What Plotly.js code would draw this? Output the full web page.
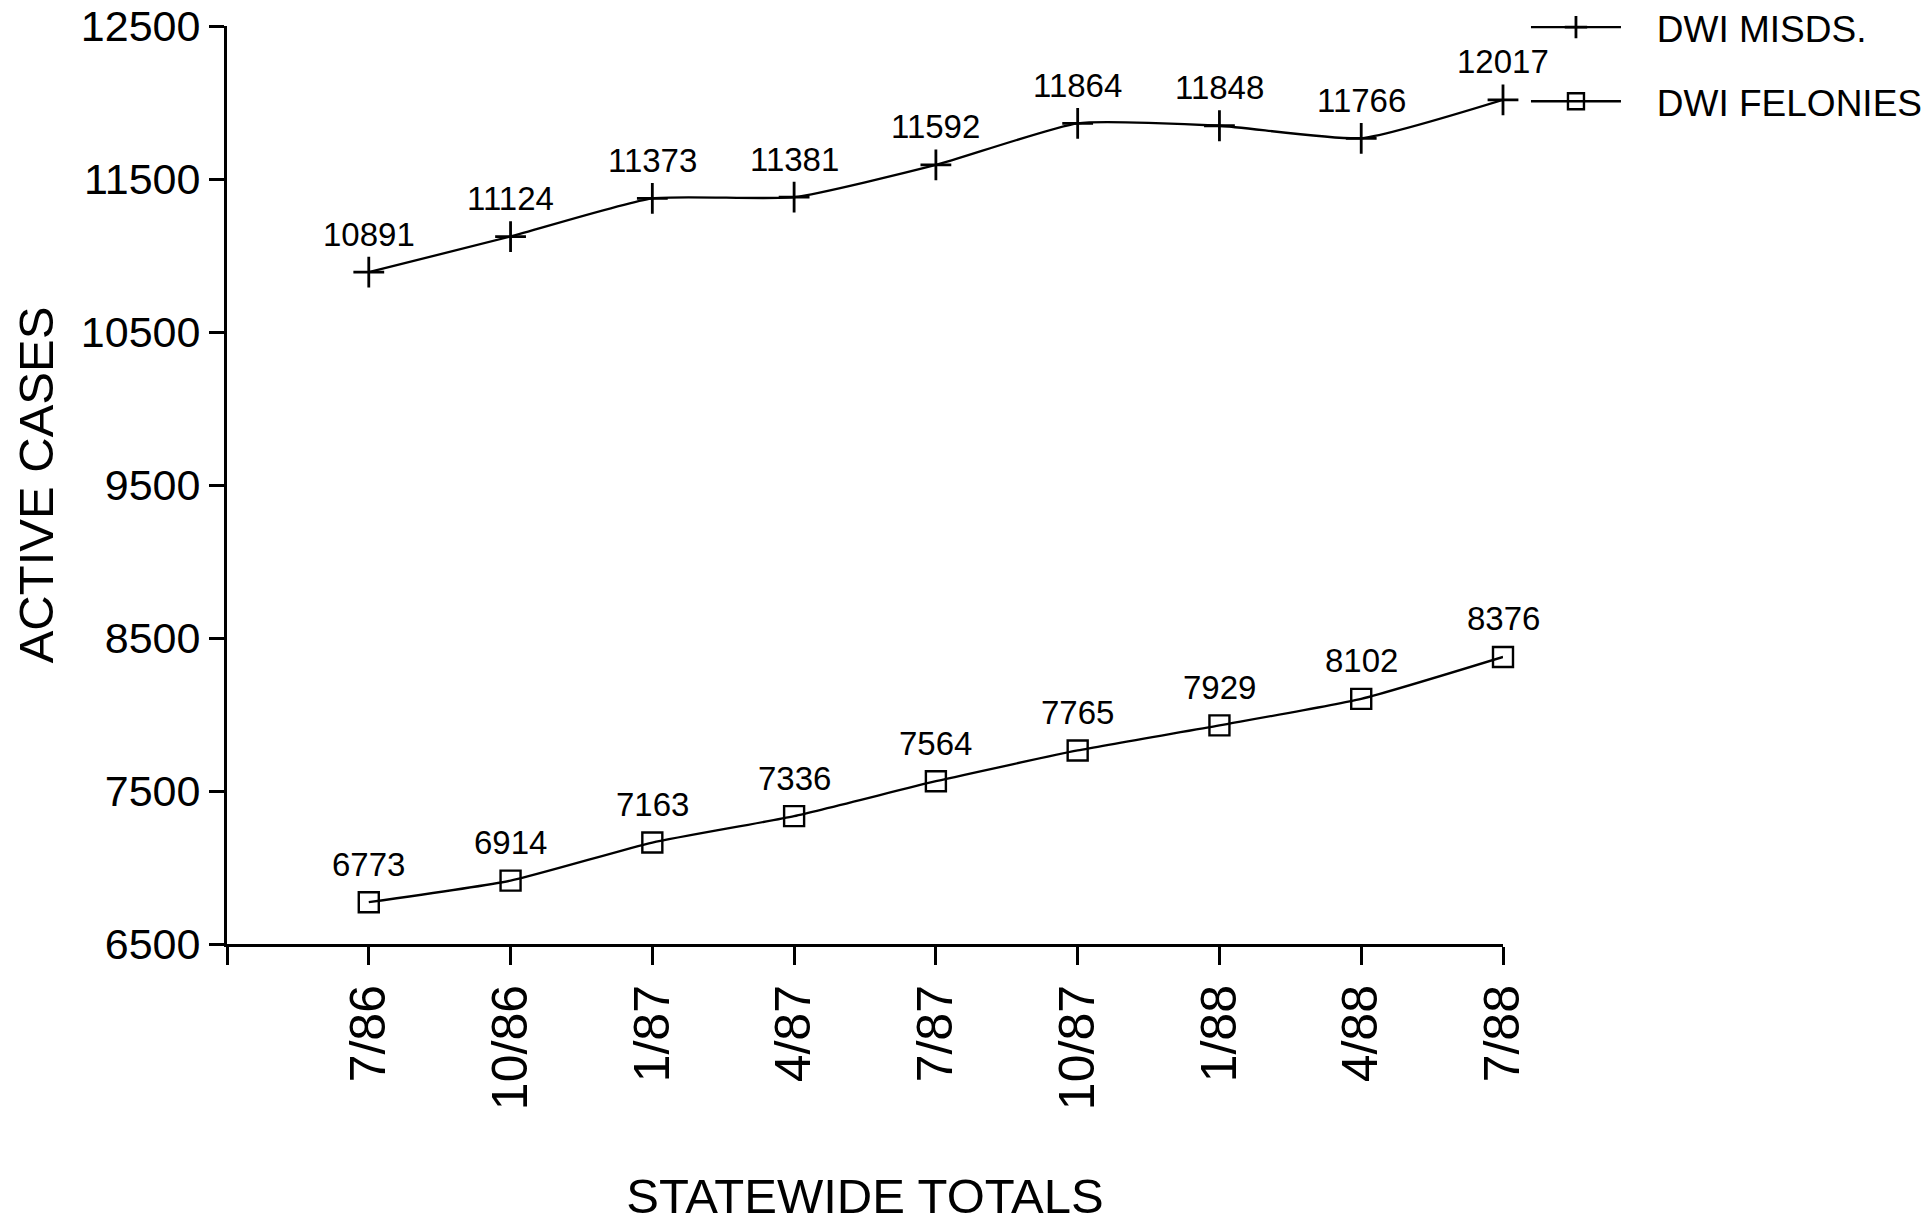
<!DOCTYPE html>
<html>
<head>
<meta charset="utf-8">
<script src="https://cdn.plot.ly/plotly-3.0.1.min.js"></script>
<style>html,body{margin:0;padding:0;background:#fff;}#chart{width:1928px;height:1223px;}</style>
</head>
<body>
<div id="chart"></div>
<script>
const categories = ["7/86", "10/86", "1/87", "4/87", "7/87", "10/87", "1/88", "4/88", "7/88"];
const misdemeanors = [10891, 11124, 11373, 11381, 11592, 11864, 11848, 11766, 12017];
const felonies = [6773, 6914, 7163, 7336, 7564, 7765, 7929, 8102, 8376];
const yTicks = [6500, 7500, 8500, 9500, 10500, 11500, 12500];
const seriesNames = ["DWI MISDS.", "DWI FELONIES"];

const FONT = "Liberation Sans, Arial, sans-serif";
const xIdx = categories.map((c, i) => i);
const GAP = "\u00a0\u00a0\u00a0";

const traces = [
  {
    x: xIdx, y: misdemeanors, name: GAP + seriesNames[0], legendgroup: "a",
    type: "scatter", mode: "lines+markers", cliponaxis: false,
    line: {color: "#000", width: 2.3, shape: "spline", smoothing: 0.5},
    marker: {symbol: "cross-thin-open", size: 22, color: "#000", line: {color: "#000", width: 2.8}}
  },
  {
    x: xIdx, y: felonies, name: GAP + seriesNames[1], legendgroup: "b",
    type: "scatter", mode: "lines+markers", cliponaxis: false,
    line: {color: "#000", width: 2.3, shape: "spline", smoothing: 0.5},
    marker: {symbol: "square-open", size: 20, color: "#000", line: {color: "#000", width: 2.4}}
  }
];

const annotations = [];
[misdemeanors, felonies].forEach(series => {
  series.forEach((v, i) => {
    annotations.push({
      x: i, y: v, xref: "x", yref: "y", text: String(v), showarrow: false,
      yshift: 38, font: {family: FONT, size: 33, color: "#000"}
    });
  });
});

const layout = {
  width: 1928, height: 1223,
  paper_bgcolor: "#fff", plot_bgcolor: "#fff",
  margin: {l: 227, r: 425, t: 26, b: 279, pad: 0, autoexpand: false},
  font: {family: FONT, color: "#000"},
  showlegend: true,
  legend: {
    x: 1.018, y: 1.032, xanchor: "left", yanchor: "top",
    font: {family: FONT, size: 37, color: "#000"},
    itemwidth: 90, tracegroupgap: 23, bgcolor: "rgba(0,0,0,0)"
  },
  xaxis: {
    range: [-1, 8], showgrid: false, zeroline: false,
    showline: true, linecolor: "#000", linewidth: 3,
    tickmode: "array", tickvals: [-1].concat(xIdx), ticktext: [""].concat(categories),
    ticks: "outside", ticklen: 18, tickwidth: 3, tickcolor: "#000",
    tickangle: -90, tickfont: {family: FONT, size: 50, color: "#000"},
    title: {text: "STATEWIDE TOTALS", font: {family: FONT, size: 49, color: "#000"}, standoff: 72}
  },
  yaxis: {
    range: [6500, 12500], showgrid: false, zeroline: false,
    showline: true, linecolor: "#000", linewidth: 3,
    tickmode: "array", tickvals: yTicks, ticktext: yTicks.map(String),
    ticks: "outside", ticklen: 15, tickwidth: 3, tickcolor: "#000",
    tickfont: {family: FONT, size: 43, color: "#000"},
    title: {text: "ACTIVE CASES", font: {family: FONT, size: 49, color: "#000"}, standoff: 12}
  },
  annotations: annotations
};

Plotly.newPlot("chart", traces, layout, {displayModeBar: false, staticPlot: true});
</script>
</body>
</html>
